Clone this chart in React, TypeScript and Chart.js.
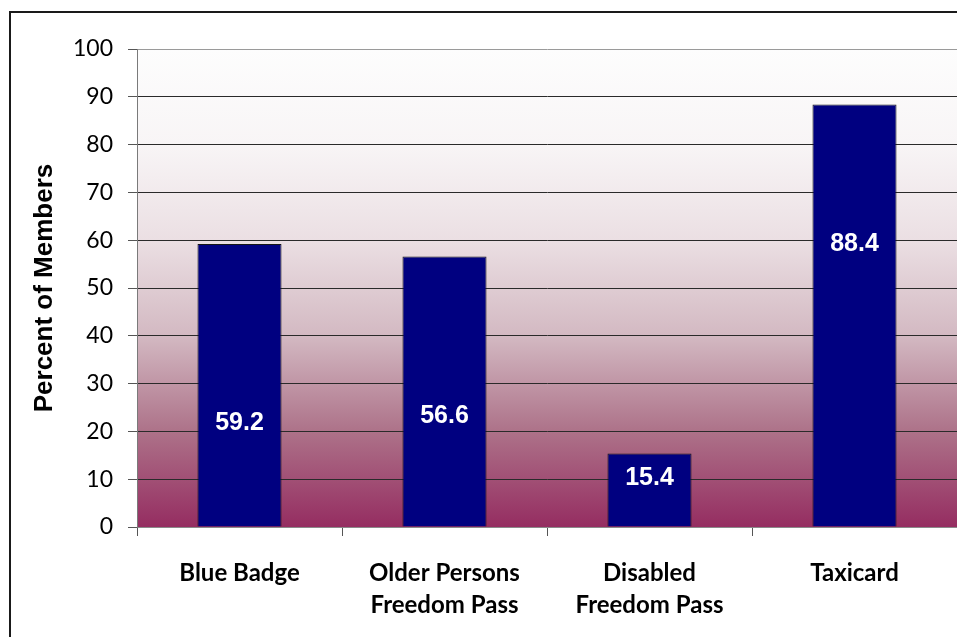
import React, { useEffect, useRef } from "react";
import { Chart, registerables } from "chart.js";

Chart.register(...registerables);

const categories: (string | string[])[] = [
  "Blue Badge",
  ["Older Persons", "Freedom Pass"],
  ["Disabled", "Freedom Pass"],
  "Taxicard",
];
const percentOfMembers = [59.2, 56.6, 15.4, 88.4];
const valueLabels = ["59.2", "56.6", "15.4", "88.4"];
// where each value label sits, in axis units (as placed in the original)
const labelAnchors = [21.8, 23.2, 10.2, 59.2];

const gradientPlugin = {
  id: "plotGradient",
  beforeDraw(chart: any) {
    const { ctx, chartArea } = chart;
    if (!chartArea) return;
    const g = ctx.createLinearGradient(0, chartArea.top, 0, chartArea.bottom);
    g.addColorStop(0, "#fdfdfd");
    g.addColorStop(0.2, "#f8f5f6");
    g.addColorStop(0.4, "#ebdfe3");
    g.addColorStop(0.6, "#d3b9c2");
    g.addColorStop(0.8, "#ad7289");
    g.addColorStop(1, "#952d61");
    ctx.save();
    ctx.fillStyle = g;
    ctx.fillRect(chartArea.left, chartArea.top, chartArea.right - chartArea.left, chartArea.bottom - chartArea.top);
    ctx.restore();
  },
};

const valueLabelPlugin = {
  id: "valueLabels",
  afterDatasetsDraw(chart: any) {
    const { ctx } = chart;
    const meta = chart.getDatasetMeta(0);
    const yScale = chart.scales.y;
    ctx.save();
    ctx.fillStyle = "#ffffff";
    ctx.font = "bold 25px 'Liberation Sans', Arial, sans-serif";
    ctx.textAlign = "center";
    ctx.textBaseline = "middle";
    meta.data.forEach((bar: any, i: number) => {
      ctx.fillText(valueLabels[i], bar.x, yScale.getPixelForValue(labelAnchors[i]));
    });
    ctx.restore();
  },
};

export default function App() {
  const canvasRef = useRef<HTMLCanvasElement | null>(null);

  useEffect(() => {
    if (!canvasRef.current) return;
    const chart = new Chart(canvasRef.current, {
      type: "bar",
      data: {
        labels: categories,
        datasets: [
          {
            data: percentOfMembers,
            backgroundColor: "#000080",
            borderColor: "#151515",
            borderWidth: 1,
            categoryPercentage: 1,
            barPercentage: 0.41,
          },
        ],
      },
      plugins: [gradientPlugin, valueLabelPlugin],
      options: {
        animation: false,
        responsive: false,
        layout: { padding: { top: 49, right: 0, left: 0, bottom: 0 } },
        plugins: { legend: { display: false }, tooltip: { enabled: false } },
        scales: {
          x: {
            afterFit(scale: any) {
              scale.height = 110;
            },
            grid: {
              display: true,
              drawOnChartArea: false,
              offset: true,
              tickLength: 9,
              color: "#555555",
            },
            border: { display: true, color: "#8a8a8a", width: 1 },
            ticks: {
              color: "#000000",
              padding: 21,
              font: { family: "Lato, 'Open Sans', sans-serif", size: 24, weight: "bold", lineHeight: 1.35 },
              maxRotation: 0,
              autoSkip: false,
            },
          },
          y: {
            min: 0,
            max: 100,
            afterFit(scale: any) {
              scale.width = 137;
            },
            grid: {
              color: (c: any) =>
                c.tick && (c.tick.value === 100 || c.tick.value === 0) ? "#9a9a9a" : "#2a2a2a",
              tickColor: "#555555",
              tickLength: 9,
              lineWidth: 1,
            },
            border: { display: true, color: "#7a7a7a", width: 1 },
            ticks: {
              stepSize: 10,
              color: "#000000",
              padding: 15,
              font: { family: "Lato, 'Open Sans', sans-serif", size: 23 },
            },
            title: {
              display: true,
              text: "Percent of Members",
              color: "#000000",
              font: { family: "'Liberation Sans', Arial, sans-serif", size: 26, weight: "bold" },
              padding: { top: 29, bottom: 0 },
            },
          },
        },
      },
    });
    return () => chart.destroy();
  }, []);

  return (
    <div
      style={{
        position: "fixed",
        left: 0,
        top: 0,
        width: 957,
        height: 637,
        overflow: "hidden",
        background: "#ffffff",
      }}
    >
      <div
        style={{
          position: "absolute",
          left: 9,
          top: 11,
          width: 2000,
          height: 2000,
          borderLeft: "2px solid #1a1a1a",
          borderTop: "2px solid #1a1a1a",
        }}
      />
      <canvas
        ref={canvasRef}
        width={957}
        height={637}
        style={{ position: "absolute", left: 0, top: 0, width: 957, height: 637 }}
      />
    </div>
  );
}
